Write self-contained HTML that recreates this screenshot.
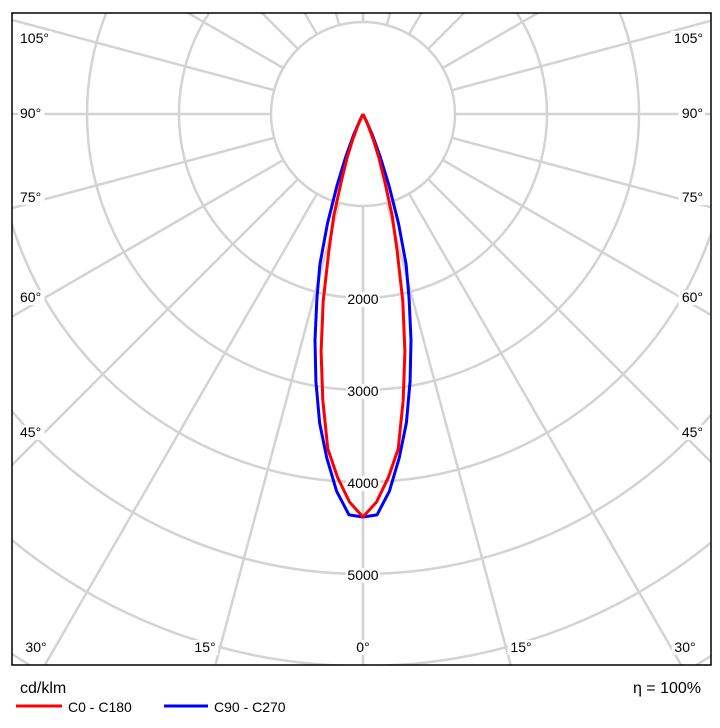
<!DOCTYPE html>
<html><head><meta charset="utf-8"><style>
html,body{margin:0;padding:0;background:#fff;overflow:hidden;width:720px;height:728px;}
svg{display:block;font-family:"Liberation Sans",Arial,sans-serif;}
</style></head><body>
<svg id="chart" width="720" height="728" viewBox="0 0 720 728" xmlns="http://www.w3.org/2000/svg">
<defs><clipPath id="clip"><rect x="12" y="13" width="699" height="652"/></clipPath></defs>
<g id="grid" clip-path="url(#clip)"></g>
<g id="series" clip-path="url(#clip)"></g>
<g id="labels"></g>
<rect x="12" y="13" width="699" height="652" fill="none" stroke="#000" stroke-width="1.5"/>
<text x="20" y="693" font-size="16" fill="#000">cd/klm</text>
<text x="701" y="693" font-size="16" fill="#000" text-anchor="end">η = 100%</text>
<line x1="16" y1="706" x2="62" y2="706" stroke="#ff0000" stroke-width="3"/>
<text x="68" y="712" font-size="14">C0 - C180</text>
<line x1="164" y1="706" x2="208" y2="706" stroke="#0000ff" stroke-width="3"/>
<text x="214" y="712" font-size="14">C90 - C270</text>
</svg>
<script>
const angles = [0,2,4,6,8,10,12,14,16,18,20,22,24,26,28];
const c0c180 = [4380,4220,3960,3660,3140,2620,2080,1530,1150,750,500,300,130,0,0];
const c90c270 = [4380,4360,4110,3760,3390,2950,2510,2070,1700,1250,820,500,250,80,0];
const ringValues = [1000,2000,3000,4000,5000,6000,7000,8000];
const ringLabels = ["2000","3000","4000","5000"];
const spokeAngles = [0,15,30,45,60,75,90,105,120,135,150,165,180];

const NS="http://www.w3.org/2000/svg";
const cx=363, cy=114, pxPer1000=92;
function rScale(v){return v/1000*pxPer1000;}
function px(a,v){return cx+rScale(v)*Math.sin(a*Math.PI/180);}
function py(a,v){return cy+rScale(v)*Math.cos(a*Math.PI/180);}
function mk(tag,attrs,parent){const e=document.createElementNS(NS,tag);for(const k in attrs)e.setAttribute(k,attrs[k]);parent.appendChild(e);return e;}

const grid=document.getElementById('grid');
ringValues.forEach(v=>{
  const c=mk('circle',{cx:cx,cy:cy,r:rScale(v),fill:'none',stroke:'#d3d3d3','stroke-width':2.5},grid);
  
  
});
spokeAngles.forEach(a=>{
  [1,-1].forEach(s=>{
    const l=mk('line',{x1:px(s*a,1000),y1:py(s*a,1000),x2:px(s*a,12000),y2:py(s*a,12000),stroke:'#d3d3d3','stroke-width':2.5},grid);
    
    
  });
});

const series=document.getElementById('series');
function curve(vals,color,name){
  const pts=[];
  for(let i=angles.length-1;i>=0;i--)pts.push(px(-angles[i],vals[i]).toFixed(1)+','+py(-angles[i],vals[i]).toFixed(1));
  for(let i=1;i<angles.length;i++)pts.push(px(angles[i],vals[i]).toFixed(1)+','+py(angles[i],vals[i]).toFixed(1));
  const p=mk('polyline',{points:pts.join(' '),fill:'none',stroke:color,'stroke-width':3,'stroke-linejoin':'round'},series);
  
  
}
curve(c90c270,'#0000ff','curve-c90-c270');
curve(c0c180,'#ff0000','curve-c0-c180');

const labels=document.getElementById('labels');
function lab(x,y,t,name,anchor){
  const w=t.length*7.5+4;
  const ax = anchor==='end'? x-w+2 : anchor==='middle'? x-w/2 : x-2;
  const r=mk('rect',{x:ax,y:y-12,width:w,height:15,fill:'#fff'},labels);
  
  
  const e=mk('text',{x:x,y:y,'font-size':14,'text-anchor':anchor||'start',fill:'#000'},labels);
  e.textContent=t;
  
  
}
ringLabels.forEach((t,i)=>{
  const v=+t;
  lab(cx,py(0,v)+6,t,'ring-label-'+t,'middle');
});
const angLeft=[["105°",20,43],["90°",20,118],["75°",20,202],["60°",20,302],["45°",20,437]];
angLeft.forEach(a=>{lab(a[1],a[2],a[0],'angle-label-left-'+parseInt(a[0]),'start');});
angLeft.forEach(a=>{lab(703,a[2],a[0],'angle-label-right-'+parseInt(a[0]),'end');});
[["30°",36],["15°",205],["0°",363],["15°",521],["30°",685]].forEach((a,i)=>{
  lab(a[1],652,a[0],'angle-label-bottom-'+i,'middle');
});
</script>
</body></html>
